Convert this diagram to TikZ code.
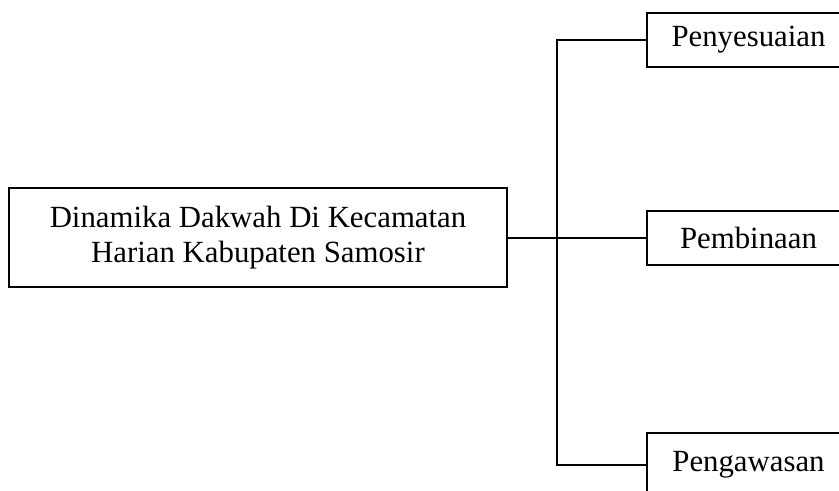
\documentclass[tikz,border=0pt]{standalone}
\usepackage{fontspec}
\setmainfont{Liberation Serif}
\begin{document}
\begin{tikzpicture}[x=0.5pt,y=-0.5pt,
  box/.style={draw,line width=0.9pt,inner sep=0pt,align=center,font=\fontsize{15.4}{17.2}\selectfont},
  bigbox/.style={box,minimum width=249pt,minimum height=49.5pt},
  smallbox/.style={box,minimum width=101.5pt,minimum height=27pt},
  link/.style={line width=0.9pt}]
\clip (0,0) rectangle (839,491);
\useasboundingbox (0,0) rectangle (839,491);
\node[bigbox] (L) at (258,237.5) {Dinamika Dakwah Di Kecamatan\\Harian Kabupaten Samosir};
\node[smallbox] (A) at (748.5,40) {Penyesuaian};
\node[smallbox] (B) at (748.5,238) {Pembinaan};
\node[smallbox,minimum height=32pt] (C) at (748.5,465) {Pengawasan};
\coordinate (spine) at (557,238);
\draw[link] (L.east |- B.west) -- (B.west);
\draw[link] (A.west) -| (spine) |- (C.west);
\end{tikzpicture}
\end{document}
